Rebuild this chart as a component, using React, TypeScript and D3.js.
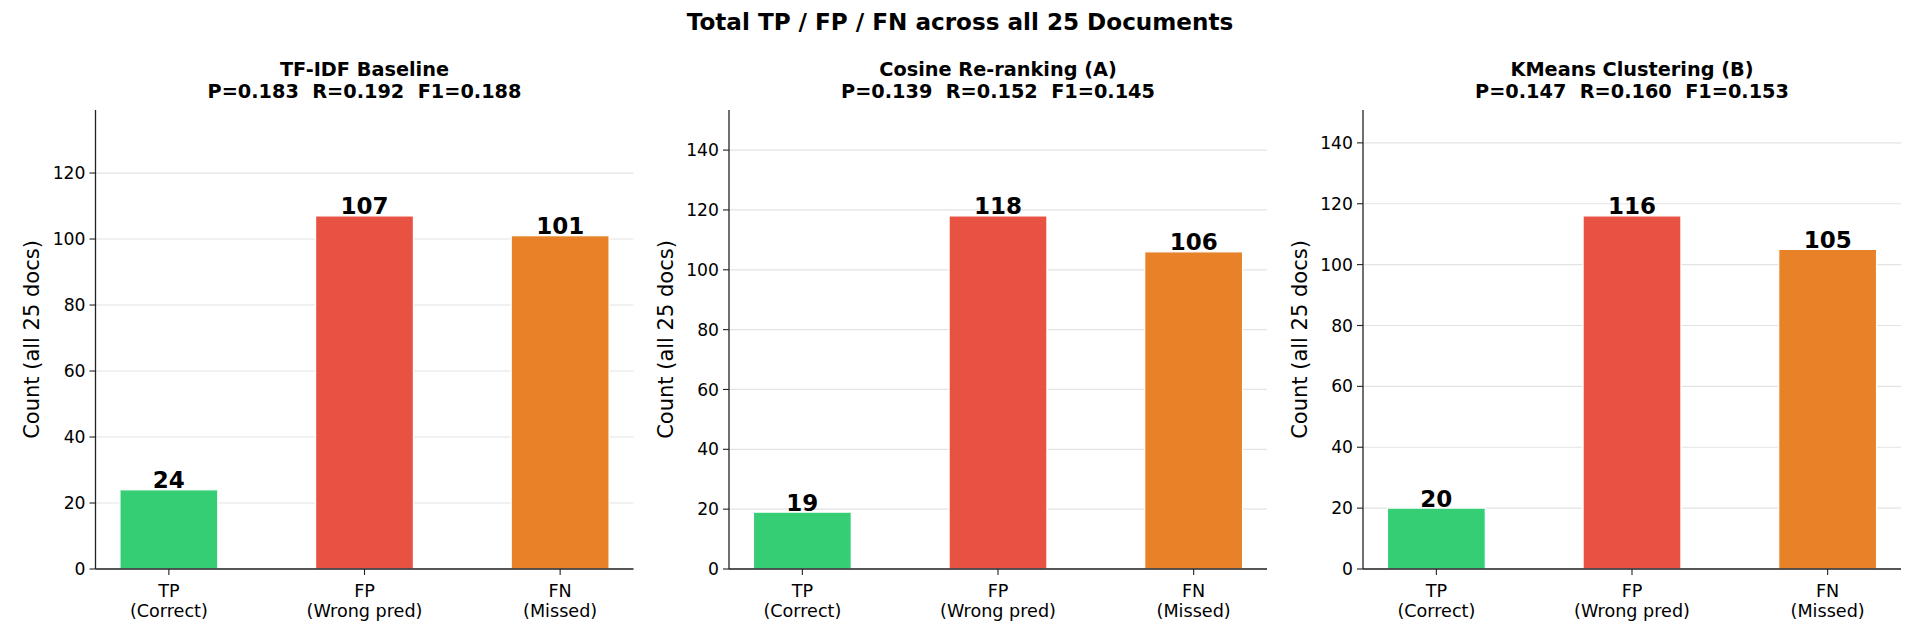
import * as d3 from 'd3';

// chart data
const methods = ['TF-IDF Baseline', 'Cosine Re-ranking (A)', 'KMeans Clustering (B)'];
const precision = [0.183, 0.139, 0.147];
const recall = [0.192, 0.152, 0.16];
const f1 = [0.188, 0.145, 0.153];

const categories = ['TP', 'FP', 'FN'];
const categoryNotes = ['(Correct)', '(Wrong pred)', '(Missed)'];
const tpCounts = [24, 19, 20];
const fpCounts = [107, 118, 116];
const fnCounts = [101, 106, 105];
const barColors = ['#2ecc71', '#e74c3c', '#e67e22'];

const WIDTH = 1920;
const HEIGHT = 640;
const FONT = '"DejaVu Sans", sans-serif';

const panelLefts = [95.5, 729, 1363];
const panelWidth = 538;
const panelTop = 110;
const panelBottom = 569;

function Panel({ index }: { index: number }) {
  const values = [tpCounts[index], fpCounts[index], fnCounts[index]];
  const innerHeight = panelBottom - panelTop;

  const x = d3.scaleBand<string>().domain(categories).range([0, panelWidth]).paddingInner(0.5).paddingOuter(0.125);
  const y = d3
    .scaleLinear()
    .domain([0, (d3.max(values) ?? 0) * 1.3])
    .range([innerHeight, 0]);
  const ticks = y.ticks(7);

  const title2 = `P=${precision[index].toFixed(3)}  R=${recall[index].toFixed(3)}  F1=${f1[index].toFixed(3)}`;

  return (
    <g transform={`translate(${panelLefts[index]},${panelTop})`}>
      {/* grid */}
      {ticks.map((t) => (
        <line key={`g${t}`} x1={0} x2={panelWidth} y1={y(t)} y2={y(t)} stroke="#e3e3e3" strokeWidth={1.2} />
      ))}

      {/* bars */}
      {values.map((v, i) => (
        <rect
          key={categories[i]}
          x={x(categories[i])}
          y={y(v)}
          width={x.bandwidth()}
          height={innerHeight - y(v)}
          fill={barColors[i]}
          fillOpacity={0.97}
          stroke="#ffffff"
          strokeWidth={1.2}
        />
      ))}

      {/* value labels */}
      {values.map((v, i) => (
        <text
          key={`v${i}`}
          x={(x(categories[i]) ?? 0) + x.bandwidth() / 2}
          y={y(v) - 1.5}
          textAnchor="middle"
          fontFamily={FONT}
          fontWeight="bold"
          fontSize={23}
          fill="#000"
        >
          {v}
        </text>
      ))}

      {/* y axis */}
      <line x1={0} x2={0} y1={0} y2={innerHeight} stroke="#222" strokeWidth={1.3} />
      {ticks.map((t) => (
        <g key={`t${t}`} transform={`translate(0,${y(t)})`}>
          <line x1={-6} x2={0} stroke="#222" strokeWidth={1.1} />
          <text x={-10} dy="0.35em" textAnchor="end" fontFamily={FONT} fontSize={17.2} fill="#000">
            {t}
          </text>
        </g>
      ))}
      <text
        transform={`translate(${32 - panelLefts[0]},${innerHeight / 2}) rotate(-90)`}
        textAnchor="middle"
        dy="0.35em"
        fontFamily={FONT}
        fontSize={21}
        fill="#000"
      >
        Count (all 25 docs)
      </text>

      {/* x axis */}
      <line x1={0} x2={panelWidth} y1={innerHeight} y2={innerHeight} stroke="#222" strokeWidth={1.3} />
      {categories.map((c, i) => {
        const cx = (x(c) ?? 0) + x.bandwidth() / 2;
        return (
          <g key={`x${c}`} transform={`translate(${cx},${innerHeight})`}>
            <line y1={0} y2={6} stroke="#222" strokeWidth={1.1} />
            <text y={28} textAnchor="middle" fontFamily={FONT} fontSize={17.6} fill="#000">
              {c}
            </text>
            <text y={48} textAnchor="middle" fontFamily={FONT} fontSize={17.6} fill="#000">
              {categoryNotes[i]}
            </text>
          </g>
        );
      })}

      {/* panel title */}
      <text x={panelWidth / 2} y={-34} textAnchor="middle" fontFamily={FONT} fontWeight="bold" fontSize={19.3} fill="#000">
        {methods[index]}
      </text>
      <text
        x={panelWidth / 2}
        y={-12}
        textAnchor="middle"
        fontFamily={FONT}
        fontWeight="bold"
        fontSize={19.3}
        fill="#000"
        style={{ whiteSpace: 'pre' }}
      >
        {title2}
      </text>
    </g>
  );
}

export default function App() {
  return (
    <svg
      width={WIDTH}
      height={HEIGHT}
      style={{ position: 'absolute', left: 0, top: 0, background: '#fff' }}
    >
      <rect width={WIDTH} height={HEIGHT} fill="#fff" />
      <text x={WIDTH / 2} y={30} textAnchor="middle" fontFamily={FONT} fontWeight="bold" fontSize={23.1} fill="#000">
        Total TP / FP / FN across all 25 Documents
      </text>
      {methods.map((m, i) => (
        <Panel key={m} index={i} />
      ))}
    </svg>
  );
}
